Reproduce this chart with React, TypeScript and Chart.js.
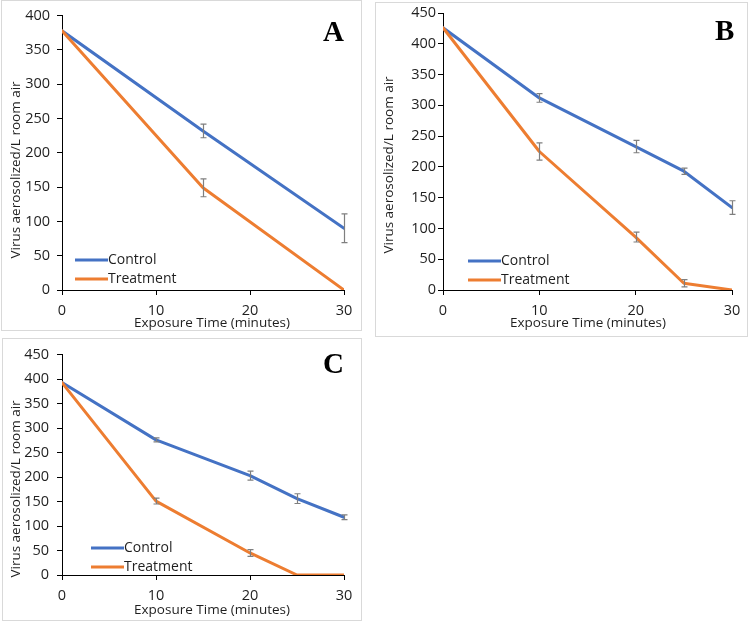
import React, { useEffect, useRef } from "react";
import { Chart, registerables } from "chart.js";
Chart.register(...registerables);

// ---------- data ----------
const seriesNames = ["Control", "Treatment"];
const xTitle = "Exposure Time (minutes)";
const yTitle = "Virus aerosolized/L room air";
const xTicks = [0, 10, 20, 30];

// Panel A
const timeA = [0, 15, 30];
const controlA = [378, 232, 90];
const controlErrA = [0, 10, 21];
const treatA = [378, 149, 0];
const treatErrA = [0, 13, 0];

// Panel B
const timeB = [0, 10, 20, 25, 30];
const controlB = [426, 312, 233, 193, 134];
const controlErrB = [0, 7, 10, 5, 11];
const treatB = [426, 225, 86, 11, 0];
const treatErrB = [0, 14, 8, 6, 0];

// Panel C
const timeC = [0, 10, 20, 25, 30];
const controlC = [393, 276, 203, 156, 118];
const controlErrC = [0, 4, 9, 10, 5];
const treatC = [393, 151, 45, 0, 0];
const treatErrC = [0, 6, 7, 0, 0];

// ---------- style ----------
const FONT = "'Open Sans', sans-serif";
const BLUE = "#4472C4";
const ORANGE = "#ED7D31";
const TEXT = "#1f1f1f";
const XH = 45;

type Rect = { l: number; t: number; r: number; b: number };
type Pt = { x: number; y: number };
interface PanelProps {
  letter: string;
  frame: Rect;
  plot: Rect;
  yMax: number;
  times: number[];
  control: number[];
  controlErr: number[];
  treat: number[];
  treatErr: number[];
  tickPad: number;
  yTitlePos: Pt;
  xTitlePos: Pt;
  legendPos: Pt;
  letterPos: Pt;
}

function Panel(p: PanelProps) {
  const ref = useRef<HTMLCanvasElement | null>(null);
  const cl = p.frame.l;
  const ct = p.frame.t;
  const cw = p.frame.r - p.frame.l + 1;
  const ch = p.plot.b - ct + XH + 4;

  useEffect(() => {
    if (!ref.current) return;
    const toPts = (xs: number[], ys: number[]) => xs.map((x, i) => ({ x, y: ys[i] }));
    const errs = [p.controlErr, p.treatErr];

    const overlay = {
      id: "overlay",
      afterDatasetsDraw(chart: any) {
        const ctx = chart.ctx;
        const ys = chart.scales.y;
        ctx.save();
        ctx.strokeStyle = "#7f7f7f";
        ctx.lineWidth = 1.2;
        chart.data.datasets.forEach((ds: any, di: number) => {
          const meta = chart.getDatasetMeta(di);
          meta.data.forEach((el: any, i: number) => {
            const e = errs[di][i];
            if (!e) return;
            const v = ds.data[i].y;
            const x = Math.round(el.x) + 0.5;
            const y1 = ys.getPixelForValue(v + e);
            const y2 = ys.getPixelForValue(v - e);
            ctx.beginPath();
            ctx.moveTo(x, y1);
            ctx.lineTo(x, y2);
            ctx.moveTo(x - 3, y1);
            ctx.lineTo(x + 3, y1);
            ctx.moveTo(x - 3, y2);
            ctx.lineTo(x + 3, y2);
            ctx.stroke();
          });
        });
        const lx = p.legendPos.x - cl;
        const ly = p.legendPos.y - ct;
        [BLUE, ORANGE].forEach((c, i) => {
          const y = ly + i * 19;
          ctx.strokeStyle = c;
          ctx.lineWidth = 3;
          ctx.beginPath();
          ctx.moveTo(lx, y);
          ctx.lineTo(lx + 33, y);
          ctx.stroke();
          ctx.fillStyle = TEXT;
          ctx.font = `14px ${FONT}`;
          ctx.textAlign = "left";
          ctx.textBaseline = "middle";
          ctx.fillText(seriesNames[i], lx + 33, y);
        });
        ctx.fillStyle = TEXT;
        ctx.font = `13.5px ${FONT}`;
        ctx.textAlign = "center";
        ctx.textBaseline = "middle";
        ctx.fillText(xTitle, p.xTitlePos.x - cl, p.xTitlePos.y - ct);
        ctx.save();
        ctx.translate(p.yTitlePos.x - cl, p.yTitlePos.y - ct);
        ctx.rotate(-Math.PI / 2);
        ctx.fillText(yTitle, 0, 0);
        ctx.restore();
        ctx.fillStyle = "#000";
        ctx.font = `bold 29px 'Liberation Serif', 'Times New Roman', serif`;
        ctx.textAlign = "left";
        ctx.textBaseline = "alphabetic";
        ctx.fillText(p.letter, p.letterPos.x - cl, p.letterPos.y - ct);
        ctx.restore();
      },
    };

    const padTop = p.plot.t - ct;
    const padRight = cw - (p.plot.r - cl);
    const padBottom = ch - (p.plot.b - ct) - XH;
    const yW = p.plot.l - cl;

    const chart = new Chart(ref.current, {
      type: "line",
      data: {
        datasets: [
          {
            label: seriesNames[0],
            data: toPts(p.times, p.control),
            borderColor: BLUE,
            backgroundColor: BLUE,
            borderWidth: 3,
            pointRadius: 0,
            tension: 0,
            borderJoinStyle: "round",
            borderCapStyle: "round",
            order: 1,
          },
          {
            label: seriesNames[1],
            data: toPts(p.times, p.treat),
            borderColor: ORANGE,
            backgroundColor: ORANGE,
            borderWidth: 3,
            pointRadius: 0,
            tension: 0,
            borderJoinStyle: "round",
            borderCapStyle: "round",
            order: 0,
          },
        ],
      },
      options: {
        animation: false,
        responsive: false,
        maintainAspectRatio: false,
        devicePixelRatio: 1,
        layout: { padding: { left: 0, top: padTop, right: padRight, bottom: padBottom } },
        plugins: { legend: { display: false }, tooltip: { enabled: false } },
        scales: {
          x: {
            type: "linear",
            min: 0,
            max: 30,
            afterBuildTicks: (s: any) => {
              s.ticks = xTicks.map((v) => ({ value: v }));
            },
            afterFit: (s: any) => {
              s.height = XH;
            },
            ticks: { font: { family: FONT, size: 14.5 }, color: TEXT, padding: 7, maxRotation: 0 },
            grid: { display: true, drawOnChartArea: false, drawTicks: true, tickLength: 5, color: "#000" },
            border: { display: true, color: "#000", width: 1 },
          },
          y: {
            min: 0,
            max: p.yMax,
            ticks: { stepSize: 50, font: { family: FONT, size: 14.5 }, color: TEXT, padding: p.tickPad },
            afterFit: (s: any) => {
              s.width = yW;
            },
            grid: { display: true, drawOnChartArea: false, drawTicks: true, tickLength: 5, color: "#000" },
            border: { display: true, color: "#000", width: 1 },
          },
        },
      },
      plugins: [overlay],
    } as any);
    return () => chart.destroy();
  }, []);

  return (
    <>
      <div
        style={{
          position: "absolute",
          left: p.frame.l,
          top: p.frame.t,
          width: p.frame.r - p.frame.l + 1,
          height: p.frame.b - p.frame.t + 1,
          border: "1px solid #d9d9d9",
          boxSizing: "border-box",
        }}
      />
      <canvas
        ref={ref}
        width={cw}
        height={ch}
        style={{ position: "absolute", left: cl, top: ct, width: cw, height: ch }}
      />
    </>
  );
}

export default function App() {
  return (
    <div style={{ position: "fixed", left: 0, top: 0, width: 750, height: 623, background: "#fff", overflow: "hidden" }}>
      <Panel
        letter="A"
        frame={{ l: 1, t: 0, r: 361, b: 330 }}
        plot={{ l: 62, t: 13, r: 344, b: 290 }}
        yMax={400}
        times={timeA}
        control={controlA}
        controlErr={controlErrA}
        treat={treatA}
        treatErr={treatErrA}
        tickPad={7}
        yTitlePos={{ x: 16, y: 170 }}
        xTitlePos={{ x: 212, y: 323 }}
        legendPos={{ x: 75, y: 260 }}
        letterPos={{ x: 323, y: 41 }}
      />
      <Panel
        letter="B"
        frame={{ l: 375, t: 2, r: 747, b: 336 }}
        plot={{ l: 443, t: 13, r: 732, b: 290 }}
        yMax={450}
        times={timeB}
        control={controlB}
        controlErr={controlErrB}
        treat={treatB}
        treatErr={treatErrB}
        tickPad={2}
        yTitlePos={{ x: 389, y: 165 }}
        xTitlePos={{ x: 588, y: 323 }}
        legendPos={{ x: 468, y: 261 }}
        letterPos={{ x: 715, y: 40 }}
      />
      <Panel
        letter="C"
        frame={{ l: 2, t: 338, r: 361, b: 620 }}
        plot={{ l: 62, t: 348, r: 344, b: 575 }}
        yMax={450}
        times={timeC}
        control={controlC}
        controlErr={controlErrC}
        treat={treatC}
        treatErr={treatErrC}
        tickPad={8}
        yTitlePos={{ x: 16, y: 489 }}
        xTitlePos={{ x: 212, y: 610 }}
        legendPos={{ x: 91, y: 548 }}
        letterPos={{ x: 323, y: 373 }}
      />
    </div>
  );
}
